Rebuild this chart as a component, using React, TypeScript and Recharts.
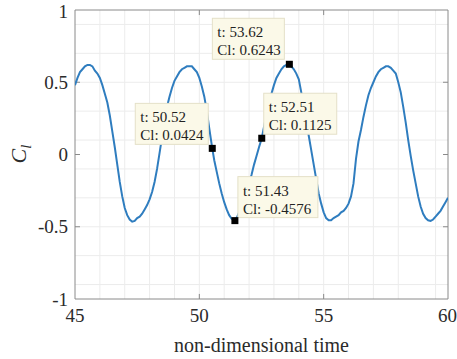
import React from 'react';
import { LineChart, Line, XAxis, YAxis, CartesianGrid, ReferenceLine, ReferenceDot, ReferenceArea } from 'recharts';

// ---- data ----
const time = [
  45.0, 45.1, 45.2, 45.3, 45.4, 45.5, 45.6, 45.7, 45.8, 45.9,
  46.0, 46.1, 46.2, 46.3, 46.4, 46.5, 46.6, 46.7, 46.8, 46.9,
  47.0, 47.1, 47.2, 47.3, 47.4, 47.5, 47.6, 47.7, 47.8, 47.9,
  48.0, 48.1, 48.2, 48.3, 48.4, 48.5, 48.6, 48.7, 48.8, 48.9,
  49.0, 49.1, 49.2, 49.3, 49.4, 49.5, 49.6, 49.7, 49.8, 49.9,
  50.0, 50.1, 50.2, 50.3, 50.4, 50.52, 50.6, 50.7, 50.8, 50.9,
  51.0, 51.1, 51.2, 51.3, 51.43, 51.5, 51.6, 51.7, 51.8, 51.9,
  52.0, 52.1, 52.2, 52.3, 52.4, 52.51, 52.6, 52.7, 52.8, 52.9,
  53.0, 53.1, 53.2, 53.3, 53.4, 53.5, 53.62, 53.7, 53.8, 53.9,
  54.0, 54.1, 54.2, 54.3, 54.4, 54.5, 54.6, 54.7, 54.8, 54.9,
  55.0, 55.1, 55.2, 55.3, 55.4, 55.5, 55.6, 55.7, 55.8, 55.9,
  56.0, 56.1, 56.2, 56.3, 56.4, 56.5, 56.6, 56.7, 56.8, 56.9,
  57.0, 57.1, 57.2, 57.3, 57.4, 57.5, 57.6, 57.7, 57.8, 57.9,
  58.0, 58.1, 58.2, 58.3, 58.4, 58.5, 58.6, 58.7, 58.8, 58.9,
  59.0, 59.1, 59.2, 59.3, 59.4, 59.5, 59.6, 59.7, 59.8, 59.9,
  60.0,
];
const cl = [
  0.48, 0.53, 0.57, 0.59, 0.61, 0.62, 0.62, 0.61, 0.58, 0.56,
  0.53, 0.48, 0.42, 0.36, 0.27, 0.16, 0.05, -0.07, -0.19, -0.29,
  -0.37, -0.42, -0.45, -0.465, -0.46, -0.44, -0.43, -0.41, -0.38, -0.35,
  -0.31, -0.26, -0.19, -0.1, 0.01, 0.12, 0.23, 0.33, 0.4, 0.46,
  0.51, 0.54, 0.57, 0.59, 0.6, 0.61, 0.61, 0.61, 0.59, 0.57,
  0.53, 0.47, 0.4, 0.3, 0.18, 0.0424, -0.04, -0.12, -0.2, -0.27,
  -0.33, -0.38, -0.42, -0.445, -0.4576, -0.44, -0.4, -0.36, -0.31, -0.26,
  -0.2, -0.14, -0.07, -0.01, 0.05, 0.1125, 0.19, 0.28, 0.36, 0.42,
  0.48, 0.53, 0.56, 0.59, 0.61, 0.62, 0.6243, 0.61, 0.59, 0.56,
  0.52, 0.43, 0.33, 0.23, 0.13, 0.03, -0.07, -0.17, -0.27, -0.34,
  -0.4, -0.44, -0.455, -0.455, -0.44, -0.43, -0.42, -0.4, -0.39, -0.37,
  -0.34, -0.29, -0.2, -0.03, 0.09, 0.17, 0.26, 0.34, 0.41, 0.46,
  0.5, 0.54, 0.57, 0.59, 0.6, 0.61, 0.61, 0.6, 0.58, 0.56,
  0.5, 0.43, 0.33, 0.22, 0.1, -0.01, -0.11, -0.2, -0.29, -0.36,
  -0.41, -0.44, -0.455, -0.46, -0.45, -0.43, -0.41, -0.39, -0.36, -0.33,
  -0.3,
];
const xTicks = [45, 50, 55, 60];
const yTicks = [-1, -0.5, 0, 0.5, 1];
const tipT = [53.62, 50.52, 52.51, 51.43];
const tipCl = [0.6243, 0.0424, 0.1125, -0.4576];
const xLabel = 'non-dimensional time';

// ---- styling / placement ----
const W = 457;
const H = 359;
const FONT = 'Liberation Serif, Times New Roman, serif';
const LINE_COLOR = '#2f7dbf';
const BOX_COLOR = '#8a8a8a';
const GRID_COLOR = '#ececec';
const tipPlacement = [
  { dx: -77, dy: -46, w: 72 },
  { dx: -77, dy: -45, w: 73 },
  { dx: 2, dy: -45, w: 73 },
  { dx: 3, dy: -44, w: 80 },
];
const BOX_H = 41;

const gridX: number[] = [];
for (let i = 1; i < 30; i++) gridX.push(45 + i * 0.5);
const gridY: number[] = [];
for (let i = 1; i < 20; i++) gridY.push(Math.round((-1 + i * 0.1) * 10) / 10);

const data = time.map((t, i) => ({ t, cl: cl[i] }));

const TICK_X = 0.2; // inward tick length in x units
const TICK_Y = 0.035; // inward tick length in y units

export default function App() {
  return (
    <div style={{ position: 'absolute', left: 0, top: 0, width: W, height: H, background: '#fff' }}>
      <LineChart width={W} height={H} data={data} margin={{ top: 10, right: 9, bottom: 0, left: 0 }}>
        <CartesianGrid
          stroke={GRID_COLOR}
          strokeWidth={1}
          verticalValues={gridX}
          horizontalValues={gridY}
        />
        <XAxis
          dataKey="t"
          type="number"
          domain={[45, 60]}
          ticks={xTicks}
          allowDataOverflow
          tickLine={false}
          axisLine={false}
          tickSize={0}
          tickMargin={10}
          height={60}
          tick={{ fontFamily: FONT, fontSize: 19, fill: '#2b2b2b' }}
          label={{
            value: xLabel,
            position: 'insideBottom',
            offset: 7,
            style: { fontFamily: FONT, fontSize: 20, fill: '#2b2b2b' },
          }}
        />
        <YAxis
          type="number"
          domain={[-1, 1]}
          ticks={yTicks}
          allowDataOverflow
          tickLine={false}
          axisLine={false}
          tickSize={0}
          tickMargin={7}
          width={75}
          tickFormatter={(v: number) => String(v)}
          tick={{ fontFamily: FONT, fontSize: 19, fill: '#2b2b2b' }}
          label={{
            content: () => (
              <text
                x={26}
                y={154}
                transform="rotate(-90, 26, 154)"
                textAnchor="middle"
                fontFamily={FONT}
                fill="#2b2b2b"
              >
                <tspan fontSize={22} fontStyle="italic">C</tspan>
                <tspan fontSize={15} fontStyle="italic" dy={5}>l</tspan>
              </text>
            ),
          }}
        />
        {/* inward tick marks */}
        {xTicks.slice(1, -1).map((v) => (
          <ReferenceLine key={'xb' + v} segment={[{ x: v, y: -1 }, { x: v, y: -1 + TICK_Y }]} stroke={BOX_COLOR} />
        ))}
        {xTicks.slice(1, -1).map((v) => (
          <ReferenceLine key={'xt' + v} segment={[{ x: v, y: 1 }, { x: v, y: 1 - TICK_Y }]} stroke={BOX_COLOR} />
        ))}
        {yTicks.slice(1, -1).map((v) => (
          <ReferenceLine key={'yl' + v} segment={[{ x: 45, y: v }, { x: 45 + TICK_X, y: v }]} stroke={BOX_COLOR} />
        ))}
        {yTicks.slice(1, -1).map((v) => (
          <ReferenceLine key={'yr' + v} segment={[{ x: 60, y: v }, { x: 60 - TICK_X, y: v }]} stroke={BOX_COLOR} />
        ))}
        <Line
          type="linear"
          dataKey="cl"
          stroke={LINE_COLOR}
          strokeWidth={2}
          dot={false}
          isAnimationActive={false}
        />
        <ReferenceArea x1={45} x2={60} y1={-1} y2={1} fill="none" stroke={BOX_COLOR} strokeWidth={1} ifOverflow="visible" />
        {tipT.map((t, i) => (
          <ReferenceDot
            key={'box' + i}
            x={t}
            y={tipCl[i]}
            r={3}
            ifOverflow="visible"
            shape={(p: any) => {
              const pl = tipPlacement[i];
              const bx = p.cx + pl.dx;
              const by = p.cy + pl.dy;
              return (
                <g>
                  <rect x={bx} y={by} width={pl.w} height={BOX_H} fill="#fbf9e8" stroke="#e4e0c8" strokeWidth={1} />
                  <text x={bx + 5} y={by + 19} fontFamily={FONT} fontSize={15} fill="#222">
                    {'t: ' + t.toFixed(2)}
                  </text>
                  <text x={bx + 5} y={by + 37} fontFamily={FONT} fontSize={15} fill="#222">
                    {'Cl: ' + tipCl[i].toFixed(4)}
                  </text>
                </g>
              );
            }}
          />
        ))}
        {tipT.map((t, i) => (
          <ReferenceDot
            key={'mk' + i}
            x={t}
            y={tipCl[i]}
            r={3}
            ifOverflow="visible"
            shape={(p: any) => <rect x={p.cx - 3.5} y={p.cy - 3.5} width={7} height={7} fill="#000" />}
          />
        ))}
      </LineChart>
    </div>
  );
}
